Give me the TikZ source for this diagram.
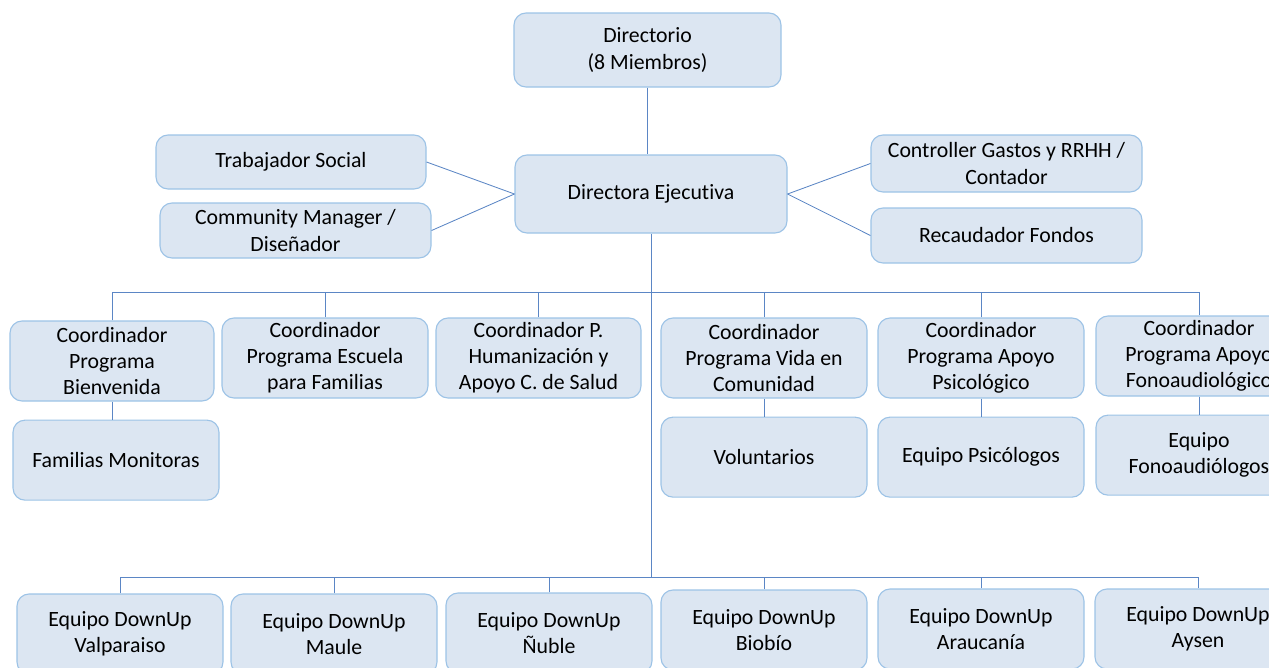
\documentclass[tikz,border=0pt]{standalone}
\usepackage{fontspec}
\setmainfont{Carlito}[Ligatures=CommonOff]
\usetikzlibrary{positioning}
\definecolor{cajaFondo}{HTML}{DCE6F2}
\definecolor{cajaBorde}{HTML}{9DC3E6}
\definecolor{linea}{HTML}{5B86C5}

\begin{document}
\begin{tikzpicture}[x=0.025cm, y=-0.025cm,
 caja/.style={draw=cajaBorde, fill=cajaFondo, line width=0.8pt, rounded corners=0.3cm,
   align=center, inner sep=2pt, font=\fontsize{15.5}{18.6}\selectfont},
 tam/.style 2 args={minimum width=#1*0.025cm, minimum height=#2*0.025cm},
 conector/.style={draw=linea, line width=0.6pt}]
    \useasboundingbox (0,0) rectangle (1269,667);
    % Direccion
    \node[caja, tam={267}{74}] (dir) at (647.5,50) {Directorio\\(8 Miembros)};
    \node[caja, tam={272}{78}] (dirEj) at (651,194) {Directora Ejecutiva};
    \node[caja, tam={270}{54}] (trabSoc) at (291,162) {Trabajador Social};
    \node[caja, tam={271}{55}] (commMan) at (295.5,230.5) {Community Manager /\\Diseñador};
    \node[caja, tam={271}{57}] (control) at (1006.5,163.5) {Controller Gastos y RRHH /\\Contador};
    \node[caja, tam={271}{55}] (recaud) at (1006.5,235.5) {Recaudador Fondos};

    % Coordinadores de programa
    \node[caja, tam={204}{80}] (cBienv) at (112,361) {Coordinador\\Programa\\Bienvenida};
    \node[caja, tam={206}{80}] (cEscuela) at (325,358) {Coordinador\\Programa Escuela\\para Familias};
    \node[caja, tam={205}{80}] (cHuman) at (538.5,358) {Coordinador P.\\Humanización y\\Apoyo C. de Salud};
    \node[caja, tam={206}{80}] (cVida) at (764,358) {Coordinador\\Programa Vida en\\Comunidad};
    \node[caja, tam={206}{80}] (cPsico) at (981,358) {Coordinador\\Programa Apoyo\\Psicológico};
    \node[caja, tam={206}{80}] (cFono) at (1199,356) {Coordinador\\Programa Apoyo\\Fonoaudiológico};

    % Equipos de cada programa
    \node[caja, tam={206}{80}, below=0.45cm of cBienv, xshift=0.1cm] (famMon) {Familias Monitoras};
    \node[caja, tam={206}{80}, below=0.45cm of cVida] (volunt) {Voluntarios};
    \node[caja, tam={206}{80}, below=0.45cm of cPsico] (eqPsico) {Equipo Psicólogos};
    \node[caja, tam={206}{80}, below=0.45cm of cFono] (eqFono) {Equipo\\Fonoaudiólogos};

    % Equipos regionales
    \node[caja, tam={206}{80}] (valpo) at (120,634) {Equipo DownUp\\Valparaiso};
    \node[caja, tam={206}{80}] (maule) at (334,634) {Equipo DownUp\\Maule};
    \node[caja, tam={206}{80}] (nuble) at (549,633) {Equipo DownUp\\Ñuble};
    \node[caja, tam={206}{80}] (biobio) at (764,630) {Equipo DownUp\\Biobío};
    \node[caja, tam={206}{80}] (arauc) at (981,629) {Equipo DownUp\\Araucanía};
    \node[caja, tam={206}{80}] (aysen) at (1198,629) {Equipo DownUp\\Aysen};

    % Lineas
    \coordinate (busA) at (651,292);
    \coordinate (busB) at (651,577);
    \draw[conector] (dir.south) -- (dir.south |- dirEj.north);
    \draw[conector] (trabSoc.east) -- (dirEj.west);
    \draw[conector] (commMan.east) -- (dirEj.west);
    \draw[conector] (control.west) -- (dirEj.east);
    \draw[conector] (recaud.west) -- (dirEj.east);
    \draw[conector] (dirEj.south) -- (busB);
    \foreach \c in {cBienv,cEscuela,cHuman,cVida,cPsico,cFono}
        \draw[conector] (\c.north) |- (busA);
    \foreach \c in {valpo,maule,nuble,biobio,arauc,aysen}
        \draw[conector] (\c.north) |- (busB);
    \draw[conector] (cBienv.south) -- (cBienv.south |- famMon.north);
    \draw[conector] (cVida) -- (volunt);
    \draw[conector] (cPsico) -- (eqPsico);
    \draw[conector] (cFono) -- (eqFono);
\end{tikzpicture}
\end{document}
